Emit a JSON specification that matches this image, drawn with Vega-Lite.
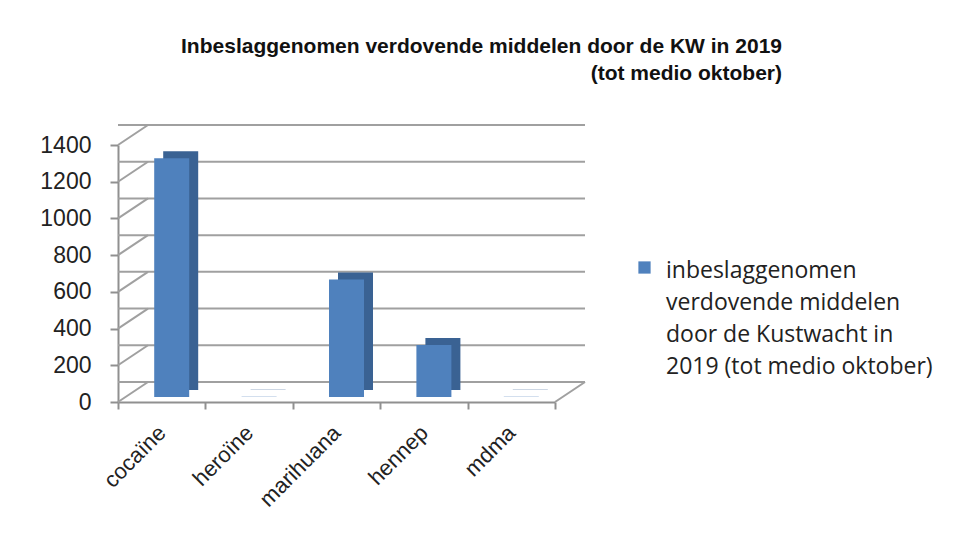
{
  "$schema": "https://vega.github.io/schema/vega-lite/v6.json",
  "width": 437,
  "height": 257,
  "autosize": {"type": "none"},
  "padding": {"left": 118, "top": 145, "right": 402, "bottom": 140},
  "background": "white",
  "config": {"view": {"stroke": null}, "axisY": {"labelOverlap": false, "tickCount": 8}},
  "title": {
    "text": ["Inbeslaggenomen  verdovende middelen door de KW in 2019", "(tot medio oktober)"],
    "anchor": "start",
    "align": "right",
    "dx": 664,
    "frame": "group",
    "font": "Liberation Sans",
    "fontSize": 21,
    "fontWeight": "bold",
    "color": "#111",
    "lineHeight": 27,
    "offset": 40
  },
  "datasets": {
    "bars": [
      {"middel": "cocaïne", "aantal": 1300, "serie": "inbeslaggenomen verdovende middelen door de Kustwacht in 2019 (tot medio oktober)"},
      {"middel": "heroïne", "aantal": 2, "serie": "inbeslaggenomen verdovende middelen door de Kustwacht in 2019 (tot medio oktober)"},
      {"middel": "marihuana", "aantal": 640, "serie": "inbeslaggenomen verdovende middelen door de Kustwacht in 2019 (tot medio oktober)"},
      {"middel": "hennep", "aantal": 283, "serie": "inbeslaggenomen verdovende middelen door de Kustwacht in 2019 (tot medio oktober)"},
      {"middel": "mdma", "aantal": 1, "serie": "inbeslaggenomen verdovende middelen door de Kustwacht in 2019 (tot medio oktober)"}
    ],
    "grid": [{"v": 0}, {"v": 200}, {"v": 400}, {"v": 600}, {"v": 800}, {"v": 1000}, {"v": 1200}, {"v": 1400}]
  },
  "layer": [
    {
      "data": {"name": "grid"},
      "mark": {"type": "rule", "stroke": "#a0a0a0", "strokeWidth": 2, "xOffset": 30, "yOffset": -20},
      "encoding": {
        "y": {
          "field": "v", "type": "quantitative", "title": null,
          "scale": {"domain": [0, 1400], "nice": false},
          "axis": {
            "values": [0, 200, 400, 600, 800, 1000, 1200, 1400],
            "tickCount": 8,
            "format": "d", "labelOverlap": false, "labelSeparation": 0,
            "grid": false, "labelFont": "Liberation Sans", "labelFontSize": 23, "labelColor": "#222",
            "labelPadding": 19, "domainColor": "#909090", "domainWidth": 2,
            "tickColor": "#909090", "tickWidth": 2, "tickSize": 8
          }
        }
      }
    },
    {
      "data": {"name": "grid"},
      "mark": {"type": "rule", "stroke": "#a0a0a0", "strokeWidth": 2, "x2Offset": 30, "y2Offset": -20},
      "encoding": {
        "x": {"datum": "cocaïne", "bandPosition": 0, "type": "nominal"},
        "x2": {"datum": "cocaïne", "bandPosition": 0},
        "y": {"field": "v", "type": "quantitative"},
        "y2": {"field": "v"}
      }
    },
    {
      "data": {"values": [{"v": 0}]},
      "mark": {"type": "rule", "stroke": "#a0a0a0", "strokeWidth": 2, "x2Offset": 30, "y2Offset": -20},
      "encoding": {
        "x": {"datum": "mdma", "bandPosition": 1, "type": "nominal"},
        "x2": {"datum": "mdma", "bandPosition": 1},
        "y": {"field": "v", "type": "quantitative"},
        "y2": {"field": "v"}
      }
    },
    {
      "data": {"name": "bars"},
      "mark": {"type": "bar", "width": 35, "xOffset": 19, "yOffset": -12, "color": "#3A6293"},
      "encoding": {
        "x": {"field": "middel", "type": "nominal", "sort": null},
        "y": {"field": "aantal", "type": "quantitative"}
      }
    },
    {
      "data": {"name": "bars"},
      "mark": {"type": "bar", "width": 35, "xOffset": 10, "yOffset": -5},
      "encoding": {
        "x": {
          "field": "middel", "type": "nominal", "sort": null, "title": null,
          "scale": {"domain": ["cocaïne", "heroïne", "marihuana", "hennep", "mdma"]},
          "axis": {
            "labelAngle": -45, "labelAlign": "right", "labelBaseline": "middle",
            "labelFont": "Liberation Sans", "labelFontSize": 22, "labelColor": "#222",
            "labelPadding": 20, "domainColor": "#909090", "domainWidth": 2,
            "tickColor": "#909090", "tickWidth": 2, "tickSize": 7, "tickBand": "extent",
            "labelLimit": 300
          }
        },
        "y": {"field": "aantal", "type": "quantitative"},
        "color": {
          "field": "serie", "type": "nominal",
          "scale": {"range": ["#4F81BD"]},
          "legend": {
            "title": null, "orient": "none", "legendX": 515, "legendY": 111,
            "symbolType": "square", "symbolSize": 150, "symbolStrokeWidth": 0,
            "labelFont": "Open Sans", "labelFontSize": 23, "labelColor": "#222",
            "labelLimit": 400, "labelBaseline": "top", "labelOffset": 10,
            "labelExpr": "['inbeslaggenomen', 'verdovende middelen', 'door de Kustwacht in', '2019 (tot medio oktober)']",
            "encode": {"labels": {"update": {"lineHeight": {"value": 32}, "dy": {"value": -8}}}}
          }
        }
      }
    }
  ]
}
